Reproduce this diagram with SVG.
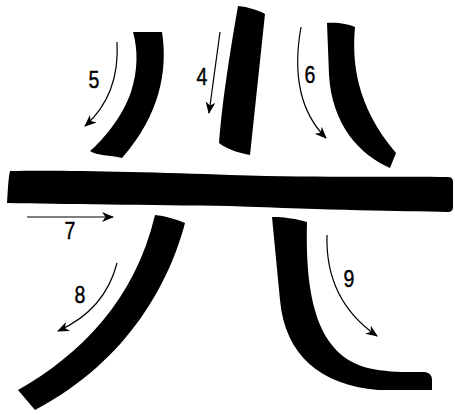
<svg xmlns="http://www.w3.org/2000/svg" width="455" height="415" viewBox="0 0 455 415">
<style>
.stroke{fill:#000;stroke:none}
.arrow{fill:none;stroke:#000;stroke-width:1.2;marker-end:url(#ah)}
.lbl{font-family:"Liberation Sans","DejaVu Sans",sans-serif;font-size:23px;fill:#000;text-anchor:middle;stroke:#000;stroke-width:0.4}
</style>
<defs>
<marker id="ah" markerWidth="12" markerHeight="10" refX="11" refY="5" orient="auto" markerUnits="userSpaceOnUse">
<path d="M0,0 L12,5 L0,10 L3.5,5 Z" fill="#000"/>
</marker>
</defs>
<rect width="455" height="415" fill="#fff"/>
<g id="strokes">
<path id="s5" class="stroke" d="M133,32 L162,32 C168,70 160,115 122,158 C110,155 97,156 90,151 C102,141 122,118 131,92 C138,70 138,50 133,32 Z"/>
<path id="s4" class="stroke" d="M238,6 C248,7 258,10 265,14 L250,155 C240,153 228,150 219,143 C222,100 232,40 238,6 Z"/>
<path id="s6" class="stroke" d="M327,23 C337,22 348,24 355,27 C352,60 355,105 396,153 L390,168 C360,155 332,125 329,75 Z"/>
<path id="s7" class="stroke" d="M10,171 C60,170 150,172 230,175 C330,178 400,176 448,177 Q453,177 453,182 L453,207 Q453,212 448,212 C400,211 330,210 230,206 C150,205 60,204 7,203 C8,190 8,180 10,171 Z"/>
<path id="s8" class="stroke" d="M155,215 C165,216 176,219 185,223 C170,280 130,360 35,410 L18,390 C80,355 135,300 155,215 Z"/>
<path id="s9" class="stroke" d="M272,217 C285,217 297,219 307,222 C305,300 318,355 368,368 C390,373 410,372 425,372 Q432,373 432,380 L432,390 L378,390 C320,385 285,355 280,300 Z"/>
</g>
<g id="connectors">
<path class="arrow" d="M117,42 Q120,95 85,126"/>
<path class="arrow" d="M220,32 L209,113"/>
<path class="arrow" d="M301,27 Q288,100 326,138"/>
<path class="arrow" d="M27,217 L113,217"/>
<path class="arrow" d="M117,263 Q105,310 58,331"/>
<path class="arrow" d="M327,235 Q325,300 377,336"/>
</g>
<g id="labels">
<text class="lbl" transform="translate(94,88) scale(0.85,1)">5</text>
<text class="lbl" transform="translate(202,85) scale(0.85,1)">4</text>
<text class="lbl" transform="translate(310,83) scale(0.85,1)">6</text>
<text class="lbl" transform="translate(70,239) scale(0.85,1)">7</text>
<text class="lbl" transform="translate(80,303) scale(0.85,1)">8</text>
<text class="lbl" transform="translate(349,287) scale(0.85,1)">9</text>
</g>
</svg>
